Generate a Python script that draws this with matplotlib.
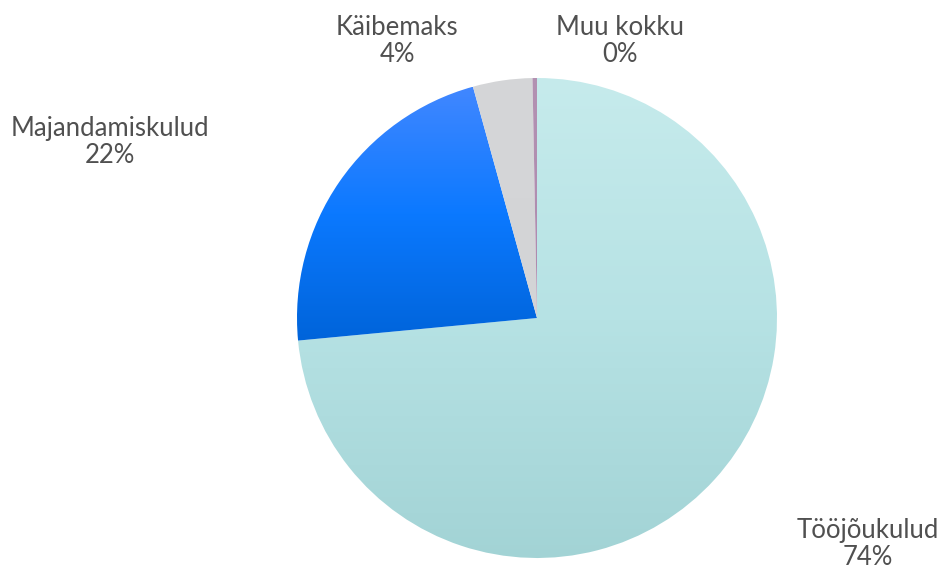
import numpy as np
import matplotlib.pyplot as plt
from matplotlib.colors import LinearSegmentedColormap

# data (percent of total)
labels = ["Tööjõukulud", "Majandamiskulud", "Käibemaks", "Muu kokku"]
values = [73.5, 22.2, 4.0, 0.3]
shown_pct = [74, 22, 4, 0]

# top / middle / bottom gradient colours per slice
grad_top = ["#c6ebec", "#4187ff", "#d5d6d8", "#b391b2"]
grad_mid = ["#b6e2e4", "#0b79ff", "#d4d5d7", "#b08eb0"]
grad_bottom = ["#a2d3d5", "#0064da", "#d3d4d6", "#ad8aad"]

# label centres (data units, pie radius = 1)
label_xy = [(1.379, -0.94), (-1.779, 0.733), (-0.583, 1.153), (0.346, 1.153)]

plt.rcParams['font.family'] = ['Lato', 'DejaVu Sans']

fig = plt.figure(figsize=(9.39, 5.68), dpi=100)
ax = fig.add_axes([0, 0, 1, 1])

wedges, _ = ax.pie(values, startangle=90, counterclock=False,
                   radius=1.0, center=(0, 0), frame=True)

# fill every wedge with a vertical gradient clipped to its shape
for w, c0, cm, c1 in zip(wedges, grad_top, grad_mid, grad_bottom):
    w.set_facecolor('none')
    w.set_edgecolor('none')
    verts = w.get_path().vertices
    x0, y0 = verts.min(axis=0)
    x1, y1 = verts.max(axis=0)
    cmap = LinearSegmentedColormap.from_list('g', [c1, cm, c0])
    grad = np.linspace(0, 1, 256).reshape(-1, 1)
    im = ax.imshow(grad, cmap=cmap, origin='lower', aspect='auto',
                   extent=(x0, x1, y0, y1), interpolation='bilinear', zorder=1)
    im.set_clip_path(w)

for name, pct, (lx, ly) in zip(labels, shown_pct, label_xy):
    ax.text(lx, ly, f"{name}\n{pct}%", ha='center', va='center',
            fontsize=18.5, color='#505050', linespacing=1.1)

ax.set_xlim(-537 / 240, (939 - 537) / 240)
ax.set_ylim(-(568 - 318) / 240, 318 / 240)
ax.set_aspect('auto')
ax.axis('off')

fig.savefig('out.png', dpi=100)
